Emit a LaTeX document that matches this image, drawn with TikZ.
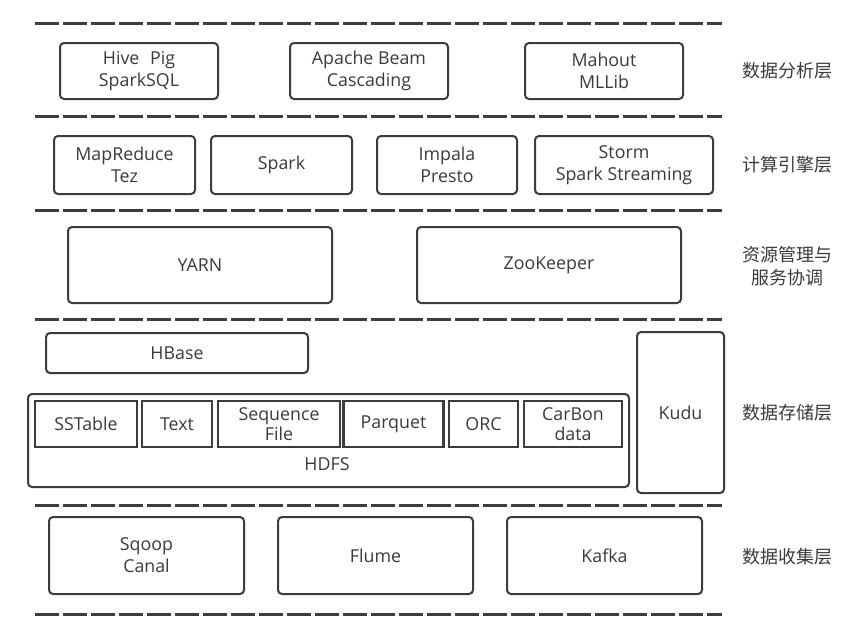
\documentclass[tikz,border=0pt]{standalone}
\usepackage{fontspec}
\setmainfont{Open Sans}
\newfontfamily\cjkfont{Noto Sans CJK SC}
\usepackage{xcolor}
\usepackage{tikz}
\usetikzlibrary{positioning}
\definecolor{linegray}{HTML}{3C3C3C}
\definecolor{textgray}{HTML}{3A3A3A}

\begin{document}
\begin{tikzpicture}[x=1pt,y=-1pt,
        box/.style={draw=linegray,line width=2pt,rounded corners=4pt,align=center,inner sep=0pt,text=textgray,font=\fontsize{17.8}{22}\selectfont},
        fmtbox/.style={draw=linegray,line width=2.5pt,align=center,inner sep=0pt,text=textgray,font=\fontsize{17.8}{20}\selectfont},
        layer/.style={align=center,inner sep=0pt,text=textgray,font=\cjkfont\fontsize{18}{23}\selectfont},
        sepline/.style={draw=linegray,line width=3pt,dash pattern=on 24pt off 4pt}]
        \useasboundingbox (0,0) rectangle (866,630);
        \foreach \y in {23,116,210,319,505,614}
            \draw[sepline] (35,\y) -- (722,\y);

        \node[box,minimum width=158pt,minimum height=56pt] (hive) at (139,71) {Hive\hspace{0.6em}Pig\\SparkSQL};
        \node[box,minimum width=158pt,minimum height=56pt] (beam) at (369,71) {Apache Beam\\Cascading};
        \node[box,minimum width=158pt,minimum height=56pt] (mahout) at (604,71) {Mahout\\MLLib};
        \node[layer] (analysis) at (787,71) {数据分析层};

        \node[box,minimum width=141pt,minimum height=58pt] (mapred) at (124.5,165) {MapReduce\\Tez};
        \node[box,minimum width=141pt,minimum height=58pt] (spark) at (281.5,165) {Spark};
        \node[box,minimum width=140pt,minimum height=58pt] (impala) at (447,165) {Impala\\Presto};
        \node[box,minimum width=178pt,minimum height=58pt] (storm) at (624,165) {Storm\\Spark Streaming};
        \node[layer] (compute) at (787,165) {计算引擎层};

        \node[box,minimum width=264pt,minimum height=76pt] (yarn) at (200,265) {YARN};
        \node[box,minimum width=264pt,minimum height=76pt] (zk) at (549,265) {ZooKeeper};
        \node[layer] (resource) at (787,266) {资源管理与\\服务协调};

        \node[box,minimum width=262pt,minimum height=40pt] (hbase) at (177,353) {HBase};
        \node[box,minimum width=601pt,minimum height=93pt] (hdfs) at (328.5,440.5) {};
        \node[text=textgray,font=\fontsize{17.8}{22}\selectfont] (hdfslabel) at (327,464) {HDFS};
        \node[fmtbox,minimum width=102pt,minimum height=46pt] (sstable) at (86,424) {SSTable};
        \node[fmtbox,minimum width=70pt,minimum height=46pt] (text) at (177,424) {Text};
        \node[fmtbox,minimum width=122pt,minimum height=46pt] (seqfile) at (279,424) {Sequence\\File};
        \node[fmtbox,minimum width=100pt,minimum height=46pt] (parquet) at (393.5,424) {Parquet};
        \node[fmtbox,minimum width=69pt,minimum height=46pt] (orc) at (483.5,424) {ORC};
        \node[fmtbox,minimum width=98pt,minimum height=46pt] (carbon) at (573,424) {CarBon\\data};
        \node[box,minimum width=87pt,minimum height=161pt] (kudu) at (680.5,412.5) {Kudu};
        \node[layer] (storage) at (787,413) {数据存储层};

        \node[box,minimum width=195pt,minimum height=77pt] (sqoop) at (146.5,555.5) {Sqoop\\Canal};
        \node[box,minimum width=195pt,minimum height=77pt] (flume) at (375.5,555.5) {Flume};
        \node[box,minimum width=195pt,minimum height=77pt] (kafka) at (604.5,555.5) {Kafka};
        \node[layer] (collect) at (787,557) {数据收集层};
    \end{tikzpicture}
\end{document}
